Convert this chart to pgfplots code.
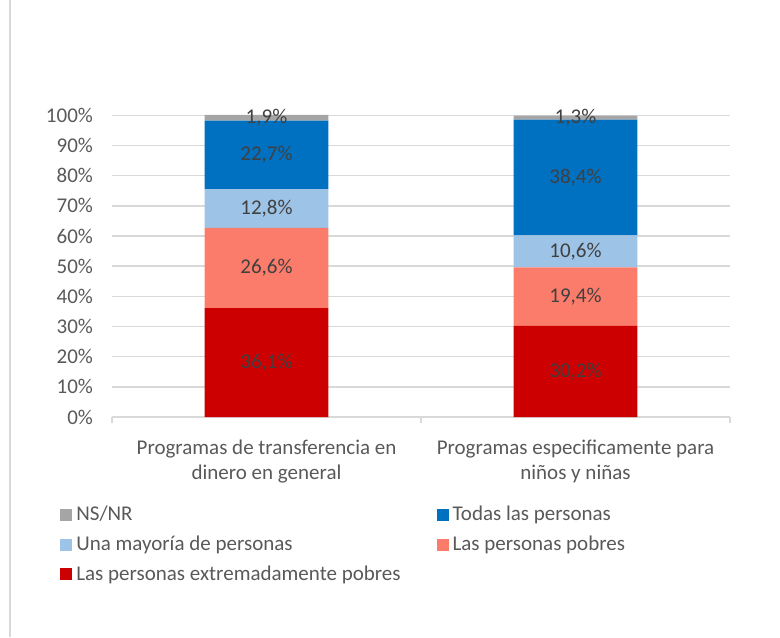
\documentclass[border=0pt]{standalone}
\usepackage{pgfplots}
\pgfplotsset{compat=1.18}
\usepackage{fontspec}
\setmainfont{Carlito}
\definecolor{cExt}{HTML}{CC0000}
\definecolor{cPob}{HTML}{FB7C6A}
\definecolor{cMay}{HTML}{9DC3E6}
\definecolor{cTod}{HTML}{0070C0}
\definecolor{cNS}{HTML}{A5A5A5}
\definecolor{txt}{HTML}{595959}
\definecolor{lbl}{HTML}{404040}
\definecolor{gridc}{HTML}{D9D9D9}
\begin{document}
\begin{tikzpicture}
\path[use as bounding box] (0,0) rectangle (390pt,318.5pt);
\draw[gridc, line width=0.7pt] (5pt,0) -- (5pt,318.5pt);
\begin{axis}[
  at={(56pt,110pt)}, anchor=south west,
  scale only axis, width=309pt, height=151pt,
  ybar stacked, bar width=0.4,
  xmin=-0.5, xmax=1.5, ymin=0, ymax=100.1,
  ytick={0,10,...,100},
  /pgf/number format/assume math mode=true,
  yticklabel={\pgfmathprintnumber{\tick}\%},
  yticklabel style={font=\fontsize{10.5}{12}\selectfont, text=txt, xshift=-6pt},
  ymajorgrids, grid style={gridc, line width=0.7pt},
  axis x line*=bottom, axis y line*=left,
  y axis line style={draw=none},
  ytick style={draw=none},
  x axis line style={gridc, line width=0.7pt},
  xtick={0,1},
  xticklabels={Programas de transferencia en\\dinero en general, Programas especificamente para\\niños y niñas},
  xticklabel style={font=\fontsize{10.5}{12.5}\selectfont, text=txt, align=center, yshift=-8pt},
  xtick style={draw=none},
  extra x ticks={-0.5,0.5,1.5},
  extra x tick labels={},
  extra x tick style={xtick style={draw=gridc, line width=0.7pt}, major tick length=3pt, tick align=outside, grid=none},
  point meta=explicit symbolic,
  nodes near coords,
  every node near coord/.append style={font=\fontsize{10.5}{12}\selectfont, text=lbl, anchor=center},
  legend columns=2,
  reverse legend,
  legend cell align=left,
  legend image code/.code={\fill[#1] (0pt,-3pt) rectangle (6pt,3pt);},
  legend style={at={(-0.094,-0.268)}, anchor=north west, draw=none, fill=none,
    font=\fontsize{10.5}{12.6}\selectfont, text=txt, row sep=2pt,
    /tikz/every even column/.append style={column sep=16pt}},
]
\addplot[fill=cExt, draw=none] coordinates {(0,36.1) [36,1\%] (1,30.2) [30,2\%]};
\addplot[fill=cPob, draw=none] coordinates {(0,26.6) [26,6\%] (1,19.4) [19,4\%]};
\addplot[fill=cMay, draw=none] coordinates {(0,12.8) [12,8\%] (1,10.6) [10,6\%]};
\addplot[fill=cTod, draw=none] coordinates {(0,22.7) [22,7\%] (1,38.4) [38,4\%]};
\addplot[fill=cNS, draw=none] coordinates {(0,1.9) [1,9\%] (1,1.3) [1,3\%]};
\legend{Las personas extremadamente pobres, Las personas pobres, Una mayoría de personas, Todas las personas, NS/NR}
\end{axis}
\end{tikzpicture}
\end{document}
